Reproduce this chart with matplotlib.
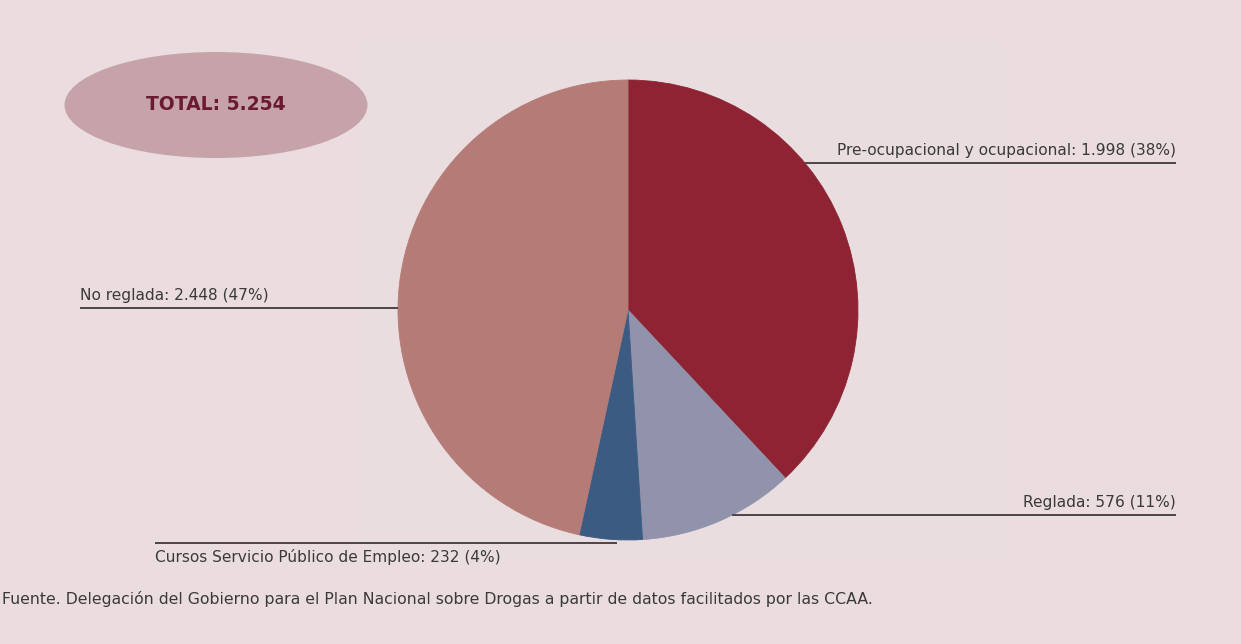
import numpy as np
import matplotlib.pyplot as plt
from matplotlib.patches import Ellipse, Rectangle

# datos
categorias = ["Pre-ocupacional y ocupacional", "Reglada",
              "Cursos Servicio Público de Empleo", "No reglada"]
valores = [1998, 576, 232, 2448]
porcentajes = [38, 11, 4, 47]
total = 5254
colores = ["#8E2433", "#9193AC", "#3C5B82", "#B57B76"]

FONDO = "#EADCDF"
W, H = 1241, 644

def miles(n):
    return f"{n:,}".replace(",", ".")

fig = plt.figure(figsize=(W / 100, H / 100), dpi=100, facecolor=FONDO)
ax = fig.add_axes([0, 0, 1, 1])

# zona del grafico, apenas mas clara
ax.add_patch(Rectangle((362, 85), 640, 515, facecolor="#E9DDDF", edgecolor="none", zorder=0))

cx, cy, r = 628, H - 310, 230
cunas, _ = ax.pie(valores, colors=colores, startangle=90, counterclock=False,
                  center=(cx, cy), radius=r, frame=True)
for w, c in zip(cunas, colores):
    w.set_edgecolor(c)
    w.set_linewidth(0.6)
ax.set_xlim(0, W)
ax.set_ylim(0, H)
ax.axis("off")

fuente = "DejaVu Sans"
txt = dict(fontsize=11.1, color="#3A3A3A", family=fuente)


def borde(y, lado):
    dy = y - cy
    dx = np.sqrt(max(r * r - dy * dy, 0))
    return cx + lado * dx


# etiquetas: (y de la linea, x exterior, lado, texto arriba/abajo)
etiquetas = [
    (H - 163, 1176, 1, "arriba"),
    (H - 515, 1176, 1, "arriba"),
    (H - 543, 155, -1, "abajo"),
    (H - 308, 80, -1, "arriba"),
]
for i, (ly, lx, lado, pos) in enumerate(etiquetas):
    texto = f"{categorias[i]}: {miles(valores[i])} ({porcentajes[i]}%)"
    if i == 2:
        x0 = 617
    else:
        x0 = borde(ly, lado)
    ax.plot([x0, lx], [ly, ly], color="#3F3A3B", lw=1.3, solid_capstyle="butt")
    ha = "right" if lado > 0 else "left"
    if pos == "arriba":
        ax.text(lx, ly + 5, texto, ha=ha, va="bottom", **txt)
    else:
        ax.text(lx, ly - 6, texto, ha=ha, va="top", **txt)

# total
ax.add_patch(Ellipse((216, H - 105), 303, 106, facecolor="#C6A3A9", edgecolor="none"))
ax.text(216, H - 104, f"TOTAL: {miles(total)}", ha="center", va="center",
        fontsize=13.5, fontweight="bold", color="#6B1A33", family=fuente)

fig.text(2 / W, 1 - 599 / H, "Fuente. Delegación del Gobierno para el Plan Nacional "
         "sobre Drogas a partir de datos facilitados por las CCAA.",
         ha="left", va="center", fontsize=11.3, color="#3A3A3A", family=fuente)

fig.savefig("out.png", dpi=100, facecolor=FONDO)
